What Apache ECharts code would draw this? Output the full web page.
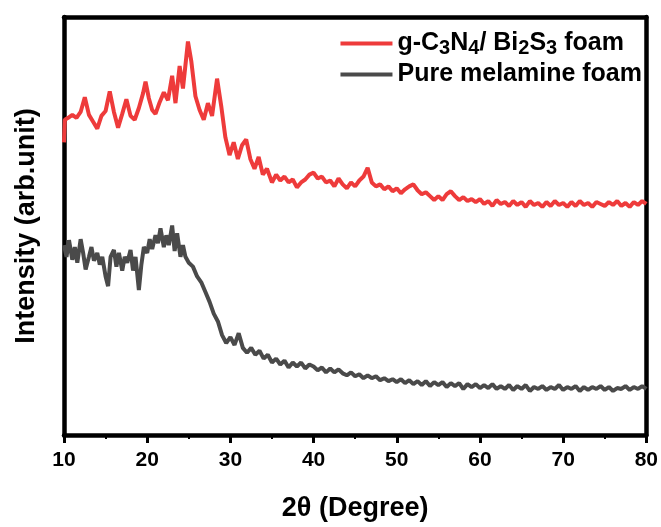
<!DOCTYPE html>
<html><head><meta charset="utf-8">
<script src="https://cdn.jsdelivr.net/npm/echarts@6/dist/echarts.min.js"></script>
<style>html,body{margin:0;padding:0;background:#fff}#c{width:661px;height:527px}</style>
</head><body><div id="c"></div>
<script>
const seriesNames = ['g-C3N4/ Bi2S3 foam', 'Pure melamine foam'];
const xTicks = [10, 20, 30, 40, 50, 60, 70, 80];

const redX = [10.0,10.1,10.5,11.0,11.5,12.0,12.5,13.0,13.5,14.0,14.5,15.0,15.5,16.0,16.5,17.0,17.5,18.0,18.5,19.0,19.5,19.8,20.2,20.6,21.0,21.5,22.0,22.5,23.0,23.4,23.9,24.3,24.9,25.3,25.8,26.3,26.8,27.3,27.8,28.4,28.9,29.4,29.9,30.4,30.9,31.4,31.9,32.4,32.9,33.4,33.9,34.4,35.0,35.5,36.0,36.5,37.0,37.5,38.0,38.5,39.0,39.5,40.0,40.5,41.0,41.5,42.0,42.5,43.0,43.5,44.0,44.5,45.0,45.5,46.0,46.5,47.0,47.5,48.0,48.5,49.0,49.5,50.0,50.5,51.0,51.5,52.0,52.5,53.0,53.5,54.0,54.5,55.0,55.5,56.0,56.5,57.0,57.5,58.0,58.5,59.0,59.5,60.0,60.5,61.0,61.5,62.0,62.5,63.0,63.5,64.0,64.5,65.0,65.5,66.0,66.5,67.0,67.5,68.0,68.5,69.0,69.5,70.0,70.5,71.0,71.5,72.0,72.5,73.0,73.5,74.0,74.5,75.0,75.5,76.0,76.5,77.0,77.5,78.0,78.5,79.0,79.5,80.0];
const redY = [287,310,312,315,312,318,333,315,308,301,314,319,339,318,302,316,331,314,310,322,337,349,332,320,316,328,338,330,355,327,365,342,390,370,334,320,310,327,314,352,324,292,274,287,270,284,290,270,260,272,254,260,246,254,248,252,246,249,241,246,249,254,256,250,252,246,248,242,250,244,240,246,242,248,252,261,246,242,244,239,242,237,240,235,239,242,244,238,234,236,232,228,232,228,234,237,232,228,231,227,229,226,229,224,227,222,228,224,226,222,227,223,226,221,227,223,225,221,226,222,227,223,225,221,226,222,227,223,225,221,226,224,222,226,223,227,222,225,221,226,223,227,224];

const greyX = [10.0,10.3,10.6,11.0,11.3,11.6,12.0,12.3,12.6,13.0,13.3,13.6,14.0,14.3,14.6,15.0,15.3,15.6,16.0,16.3,16.6,17.0,17.3,17.6,18.0,18.3,18.6,19.0,19.3,19.6,20.0,20.3,20.6,21.0,21.3,21.6,22.0,22.3,22.6,23.0,23.3,23.6,24.0,24.3,24.6,25.0,25.5,26.0,26.5,27.0,27.5,28.0,28.5,29.0,29.5,30.0,30.5,31.0,31.5,32.0,32.5,33.0,33.5,34.0,34.5,35.0,35.5,36.0,36.5,37.0,37.5,38.0,38.5,39.0,39.5,40.0,40.5,41.0,41.5,42.0,42.5,43.0,43.5,44.0,44.5,45.0,45.5,46.0,46.5,47.0,47.5,48.0,48.5,49.0,49.5,50.0,50.5,51.0,51.5,52.0,52.5,53.0,53.5,54.0,54.5,55.0,55.5,56.0,56.5,57.0,57.5,58.0,58.5,59.0,59.5,60.0,60.5,61.0,61.5,62.0,62.5,63.0,63.5,64.0,64.5,65.0,65.5,66.0,66.5,67.0,67.5,68.0,68.5,69.0,69.5,70.0,70.5,71.0,71.5,72.0,72.5,73.0,73.5,74.0,74.5,75.0,75.5,76.0,76.5,77.0,77.5,78.0,78.5,79.0,79.5,80.0];
const greyY = [182,170,187,167,180,164,188,174,157,170,180,166,174,162,170,150,140,170,177,160,174,156,170,164,177,156,170,136,162,180,174,188,178,192,184,199,180,192,182,202,176,194,170,182,170,164,160,150,144,134,124,112,104,90,82,88,80,92,77,72,77,70,74,66,70,62,66,60,64,57,62,58,62,56,60,58,54,57,52,56,52,55,51,49,52,48,50,46,49,46,48,44,46,43,45,42,45,41,44,40,43,39,43,38,42,39,42,37,41,38,41,35,40,37,40,36,39,36,40,35,38,35,39,34,38,35,39,33,37,35,38,34,37,35,39,34,37,35,38,33,37,34,37,35,38,34,37,33,36,35,38,34,37,35,38,35];

const pair = (xs, ys) => xs.map((x, i) => [x, ys[i]]);

const chart = echarts.init(document.getElementById('c'), null, {renderer: 'canvas'});
const FONT = 'Liberation Sans, Arial, sans-serif';
const legendRich = {
  n: {fontFamily: FONT, fontWeight: 'bold', fontSize: 25, color: '#000'},
  s: {fontFamily: FONT, fontWeight: 'bold', fontSize: 20, color: '#000', padding: [9, 0, 0, 0]}
};
const hidden = {axisTick: {show: false}, axisLabel: {show: false}, splitLine: {show: false}};
const Y_MIN = -12, Y_MAX = 415;
chart.setOption({
  animation: false,
  grid: {left: 64, right: 13, top: 17, bottom: 83, containLabel: false},
  legend: {
    top: 26, right: 14, orient: 'vertical', itemGap: 4,
    itemWidth: 52, itemHeight: 4,
    icon: 'rect',
    data: seriesNames,
    textStyle: {rich: legendRich},
    formatter: function (name) {
      if (name === seriesNames[0]) return '{n|g-C}{s|3}{n|N}{s|4}{n|/ Bi}{s|2}{n|S}{s|3}{n| foam}';
      return '{n|' + name + '}';
    }
  },
  xAxis: [{
    type: 'value', min: 10, max: 80, interval: 10,
    name: '2θ (Degree)', nameLocation: 'middle', nameGap: 60,
    nameTextStyle: {fontFamily: FONT, fontWeight: 'bold', fontSize: 27, color: '#000'},
    axisLine: {onZero: false, lineStyle: {color: '#000', width: 4.5}},
    axisTick: {show: true, length: 8, lineStyle: {color: '#000', width: 3}},
    minorTick: {show: true, splitNumber: 2, length: 4, lineStyle: {color: '#000', width: 2}},
    axisLabel: {fontFamily: FONT, fontWeight: 'bold', fontSize: 21, color: '#000', margin: 15,
      formatter: v => xTicks.includes(v) ? String(v) : ''},
    splitLine: {show: false}
  }, Object.assign({
    type: 'value', min: 10, max: 80, position: 'top',
    axisLine: {show: true, onZero: false, lineStyle: {color: '#000', width: 4.5}}
  }, hidden)],
  yAxis: [Object.assign({
    type: 'value', min: Y_MIN, max: Y_MAX,
    name: 'Intensity (arb.unit)', nameLocation: 'middle', nameGap: 24, nameRotate: 90,
    nameTextStyle: {fontFamily: FONT, fontWeight: 'bold', fontSize: 27, color: '#000'},
    axisLine: {show: true, onZero: false, lineStyle: {color: '#000', width: 4.5}}
  }, hidden), Object.assign({
    type: 'value', min: Y_MIN, max: Y_MAX, position: 'right',
    axisLine: {show: true, onZero: false, lineStyle: {color: '#000', width: 4.5}}
  }, hidden)],
  series: [{
    name: seriesNames[0], type: 'line', showSymbol: false, symbol: 'none',
    data: pair(redX, redY), lineStyle: {color: '#ee3b3b', width: 4}, itemStyle: {color: '#ee3b3b'}
  }, {
    name: seriesNames[1], type: 'line', showSymbol: false, symbol: 'none',
    data: pair(greyX, greyY), lineStyle: {color: '#4a4a4a', width: 4}, itemStyle: {color: '#4a4a4a'}
  }]
});
</script></body></html>
